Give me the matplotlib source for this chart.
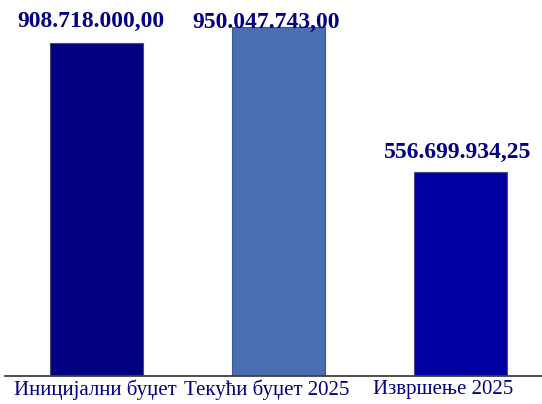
import matplotlib.pyplot as plt
import matplotlib.transforms as mtransforms

categories = ["Иницијални буџет", "Текући буџет 2025", "Извршење 2025"]
values = [908718000.00, 950047743.00, 556699934.25]
value_labels = ["908.718.000,00", "950.047.743,00", "556.699.934,25"]

colors = ["#000080", "#4a6eb1", "#0000a0"]
edges = ["#4a4a7a", "#3a5a90", "#4a4a8a"]
# label nudges in points (x, y above bar top)
label_dx = [-4, -9, -1.5]
label_dy = [11.5, -0.7, 10]
tick_dx = [-1, -8.5, -12.5]

plt.rcParams['font.family'] = ['Liberation Serif', 'DejaVu Serif']

fig = plt.figure(figsize=(5.42, 4.04), dpi=100)
ax = fig.add_axes([0.0092, 0.070, 0.9908, 0.930])

x = list(range(len(categories)))
ax.bar(x, values, width=0.51, color=colors, edgecolor=edges, linewidth=0.8, zorder=2)

for xi, v, txt, dx, dy in zip(x, values, value_labels, label_dx, label_dy):
    ax.annotate(txt, (xi, v), xytext=(dx, dy), textcoords="offset points",
                ha="center", va="baseline", fontsize=17, fontweight="bold",
                color="#000080", zorder=3)

ax.set_xlim(-0.503, 2.45)
ax.set_ylim(0, 1025e6)
ax.set_xticks(x)
ax.set_xticklabels(categories, fontsize=15, color="#000080")
ax.tick_params(axis="x", length=0, pad=3)
for lbl, dx in zip(ax.get_xticklabels(), tick_dx):
    lbl.set_transform(lbl.get_transform() +
                      mtransforms.ScaledTranslation(dx / 72, 0, fig.dpi_scale_trans))
ax.set_yticks([])
for s in ["top", "right", "left"]:
    ax.spines[s].set_visible(False)
ax.spines["bottom"].set_color("#404040")
ax.spines["bottom"].set_linewidth(1.3)

fig.savefig("out.png", dpi=100)
